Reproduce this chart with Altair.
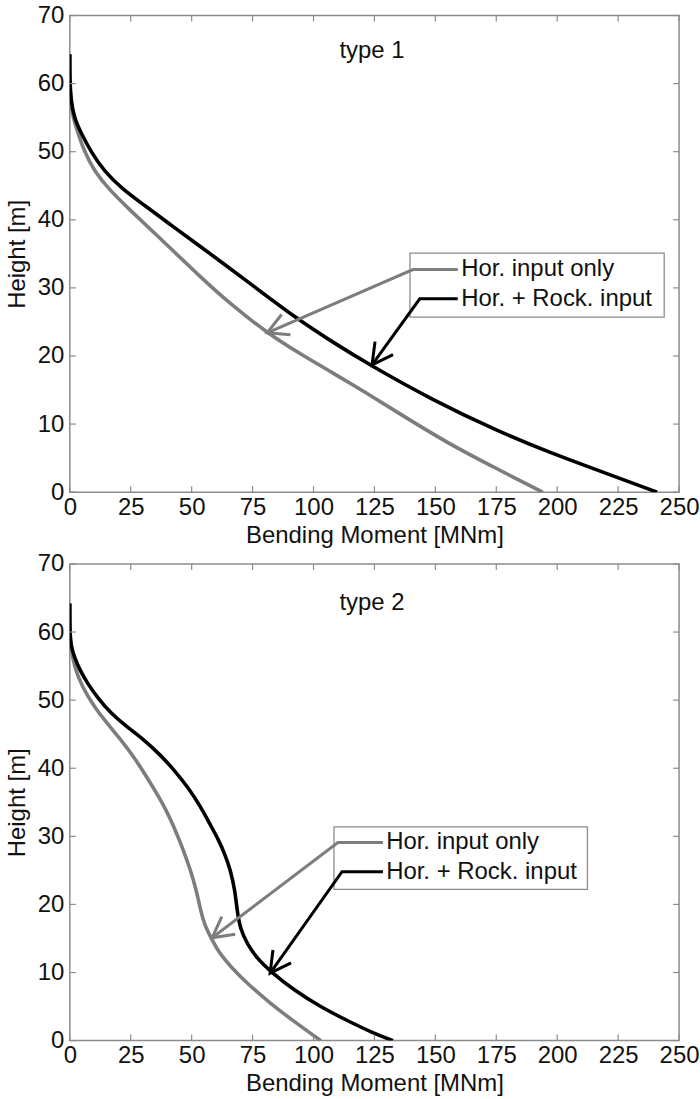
import math
import altair as alt
import pandas as pd

# ---------------- data ----------------
x_ticks = [0, 25, 50, 75, 100, 125, 150, 175, 200, 225, 250]
y_ticks = [0, 10, 20, 30, 40, 50, 60, 70]
series = ["Hor. input only", "Hor. + Rock. input"]
panel_labels = ["type 1", "type 2"]

# type 1 — Hor. input only
t1_hor_x = [0, 0, 0.3, 1.1, 3.1, 6, 10, 16, 23.6, 37, 53.6, 66, 80.9, 95, 108, 122, 135, 155, 176, 194]
t1_hor_y = [64.3, 60.5, 57.5, 55.3, 53, 50, 47.2, 44.5, 41.8, 37.3, 31.6, 27.6, 23.4, 20.2, 17.5, 14.5, 11.6, 7.2, 3.3, 0]
# type 1 — Hor. + Rock. input
t1_rock_x = [0, 0, 0.5, 1.8, 4.5, 9, 14, 21.5, 30.4, 40.5, 50, 61.5, 74.5, 93, 108, 123, 149, 176, 197, 219, 241]
t1_rock_y = [64.3, 60.5, 57.5, 55, 52.8, 49.8, 47.2, 44.5, 42.2, 39.5, 37, 34, 30.5, 25.5, 22, 18.7, 13.5, 8.9, 5.8, 2.9, 0]

# type 2 — Hor. input only
t2_hor_x = [0, 0, 0.4, 1.8, 5, 9.9, 15, 21, 27, 32.3, 36.5, 40.2, 42.8, 45.5, 49.5, 52, 53.6, 55.3, 57.7, 61, 65.9, 73, 82.2, 92, 103]
t2_hor_y = [64.2, 60, 58, 54.9, 52, 49.1, 46.7, 44.2, 41.3, 38.3, 35.8, 33.4, 31.3, 29, 25.1, 22, 19.2, 17, 15.3, 13, 10.9, 8.3, 5.5, 2.8, 0]
# type 2 — Hor. + Rock. input
t2_rock_x = [0, 0, 0.5, 1.8, 4, 7.2, 11.5, 16.8, 23, 30.4, 37, 42.7, 48.5, 53.6, 57.5, 61, 63.5, 65.9, 67.8, 68.6, 70, 72.7, 76.5, 82.2, 92, 102.7, 114, 124.5, 132.6]
t2_rock_y = [64.2, 60, 58, 56.4, 54.5, 52.5, 50.3, 48.1, 46.2, 44.2, 42, 39.8, 37.2, 34.4, 31.8, 29.5, 27.5, 25.1, 22, 19.2, 16.3, 14.3, 12.2, 10.2, 7.4, 5, 2.9, 1.1, 0]

# legend boxes [x1, x2, y1, y2] (data units)
legend_box_x1 = [139.6, 108.4]
legend_box_x2 = [243.9, 212.4]
legend_box_y1 = [35.1, 31.4]
legend_box_y2 = [25.7, 22.2]
# legend entry rows: y of each entry, sample line start/end x, text x
legend_row_y = [[32.7, 28.4], [29.1, 24.8]]
legend_line_x0 = [[140.8, 143.6], [110.0, 111.7]]
legend_line_x1 = [159.2, 128.5]
legend_text_x = [160.6, 129.8]
# arrow tips on the curves
arrow_tip_x = [[81.0, 124.0], [58.4, 82.2]]
arrow_tip_y = [[23.4, 18.7], [15.1, 9.9]]
# panel label position
label_x = [124, 124]
label_y = [64.8, 64.3]

# ---------------- style ----------------
W, H = 611, 478
XMAX, YMAX = 250, 70
GRAY = "#7d7d7d"
FRAME = "#8c8c8c"
TXT = "#111111"
FONT = "Liberation Sans"
FS = 24

color_scale = alt.Scale(domain=series, range=[GRAY, "#000000"])
xs = alt.Scale(domain=[0, XMAX], nice=False, zero=False)
ys = alt.Scale(domain=[0, YMAX], nice=False, zero=False)
X_TITLE = "Bending Moment [MNm]"
Y_TITLE = "Height [m]"
x_axis = alt.Axis(values=x_ticks, labelPadding=3, titlePadding=4, labelFlush=False)
y_axis = alt.Axis(values=y_ticks, labelPadding=6, titlePadding=8, labelFlush=False)


def X(field):
    return alt.X(field, scale=xs, title=X_TITLE, axis=x_axis)


def Y(field):
    return alt.Y(field, scale=ys, title=Y_TITLE, axis=y_axis)


ARROW_PATH = "M-0.54,-1L0,0L0.54,-1"


def panel(i, curves):
    rows = []
    for s, (xv, yv) in zip(series, curves):
        for k, (a, b) in enumerate(zip(xv, yv)):
            rows.append({"series": s, "x": a, "y": b, "o": k})
    cdf = pd.DataFrame(rows)

    lines = alt.Chart(cdf).mark_line(strokeWidth=3.6, interpolate="basis", clip=True).encode(
        x=X("x:Q"), y=Y("y:Q"),
        color=alt.Color("series:N", scale=color_scale, legend=None),
        detail="series:N",
        order="o:Q",
    )

    box_df = pd.DataFrame({"x": [legend_box_x1[i]], "x2": [legend_box_x2[i]],
                           "y": [legend_box_y1[i]], "y2": [legend_box_y2[i]]})
    box = alt.Chart(box_df).mark_rect(fill="white", stroke=FRAME, strokeWidth=1.3).encode(
        x=X("x:Q"), x2="x2:Q", y=Y("y:Q"), y2="y2:Q",
    )

    arows = []
    heads = []
    sx, sy = W / XMAX, H / YMAX
    for j, s in enumerate(series):
        tx, ty = arrow_tip_x[i][j], arrow_tip_y[i][j]
        cx, cy = legend_line_x0[i][j], legend_row_y[i][j]
        ex = legend_line_x1[i]
        arows += [
            {"series": s, "x": tx, "y": ty, "o": 0},
            {"series": s, "x": cx, "y": cy, "o": 1},
            {"series": s, "x": ex, "y": cy, "o": 2},
        ]
        dx = (tx - cx) * sx
        dy = -(ty - cy) * sy
        ang = math.degrees(math.atan2(-dx, dy)) % 360
        heads.append({"series": s, "x": tx, "y": ty, "ang": ang})
    adf = pd.DataFrame(arows)
    hdf = pd.DataFrame(heads)

    arrows = alt.Chart(adf).mark_line(strokeWidth=3).encode(
        x=X("x:Q"), y=Y("y:Q"),
        color=alt.Color("series:N", scale=color_scale, legend=None),
        detail="series:N",
        order="o:Q",
    )
    arrowheads = alt.Chart(hdf).mark_point(shape=ARROW_PATH, size=1700, filled=False,
                                           strokeWidth=3, opacity=1, strokeJoin="miter").encode(
        x=X("x:Q"), y=Y("y:Q"),
        color=alt.Color("series:N", scale=color_scale, legend=None),
        angle=alt.Angle("ang:Q", scale=None),
    )

    tdf = pd.DataFrame({"series": series, "x": [legend_text_x[i]] * 2, "y": legend_row_y[i]})
    texts = alt.Chart(tdf).mark_text(align="left", baseline="middle", font=FONT,
                                     fontSize=FS, color=TXT).encode(
        x=X("x:Q"), y=Y("y:Q"), text="series:N",
    )

    ldf = pd.DataFrame({"t": [panel_labels[i]], "x": [label_x[i]], "y": [label_y[i]]})
    ptxt = alt.Chart(ldf).mark_text(align="center", baseline="middle", font=FONT,
                                    fontSize=FS, color=TXT).encode(
        x=X("x:Q"), y=Y("y:Q"), text="t:N",
    )

    xt = pd.DataFrame({"x": x_ticks})
    yt = pd.DataFrame({"y": y_ticks})
    tb = alt.Chart(xt).mark_rule(color=FRAME, strokeWidth=1.2).encode(
        x=X("x:Q"), y=alt.value(H), y2=alt.value(H - 6))
    tt = alt.Chart(xt).mark_rule(color=FRAME, strokeWidth=1.2).encode(
        x=X("x:Q"), y=alt.value(0), y2=alt.value(6))
    tl = alt.Chart(yt).mark_rule(color=FRAME, strokeWidth=1.2).encode(
        y=Y("y:Q"), x=alt.value(0), x2=alt.value(6))
    tr = alt.Chart(yt).mark_rule(color=FRAME, strokeWidth=1.2).encode(
        y=Y("y:Q"), x=alt.value(W), x2=alt.value(W - 6))

    return alt.layer(lines, tb, tt, tl, tr, box, arrows, arrowheads, texts, ptxt).properties(
        width=W, height=H)


p1 = panel(0, [(t1_hor_x, t1_hor_y), (t1_rock_x, t1_rock_y)])
p2 = panel(1, [(t2_hor_x, t2_hor_y), (t2_rock_x, t2_rock_y)])

chart = alt.vconcat(p1, p2, spacing=3).properties(
    padding={"left": 4, "top": 1, "right": 0, "bottom": 0},
    background="white",
).configure_view(stroke=FRAME, strokeWidth=1.5).configure_axis(
    labelFont=FONT, titleFont=FONT, labelFontSize=FS, titleFontSize=FS,
    labelColor=TXT, titleColor=TXT, titleFontWeight="normal",
    ticks=False, domain=False, grid=False,
)

chart.save("out.html", embed_options={"renderer": "svg", "actions": False})
